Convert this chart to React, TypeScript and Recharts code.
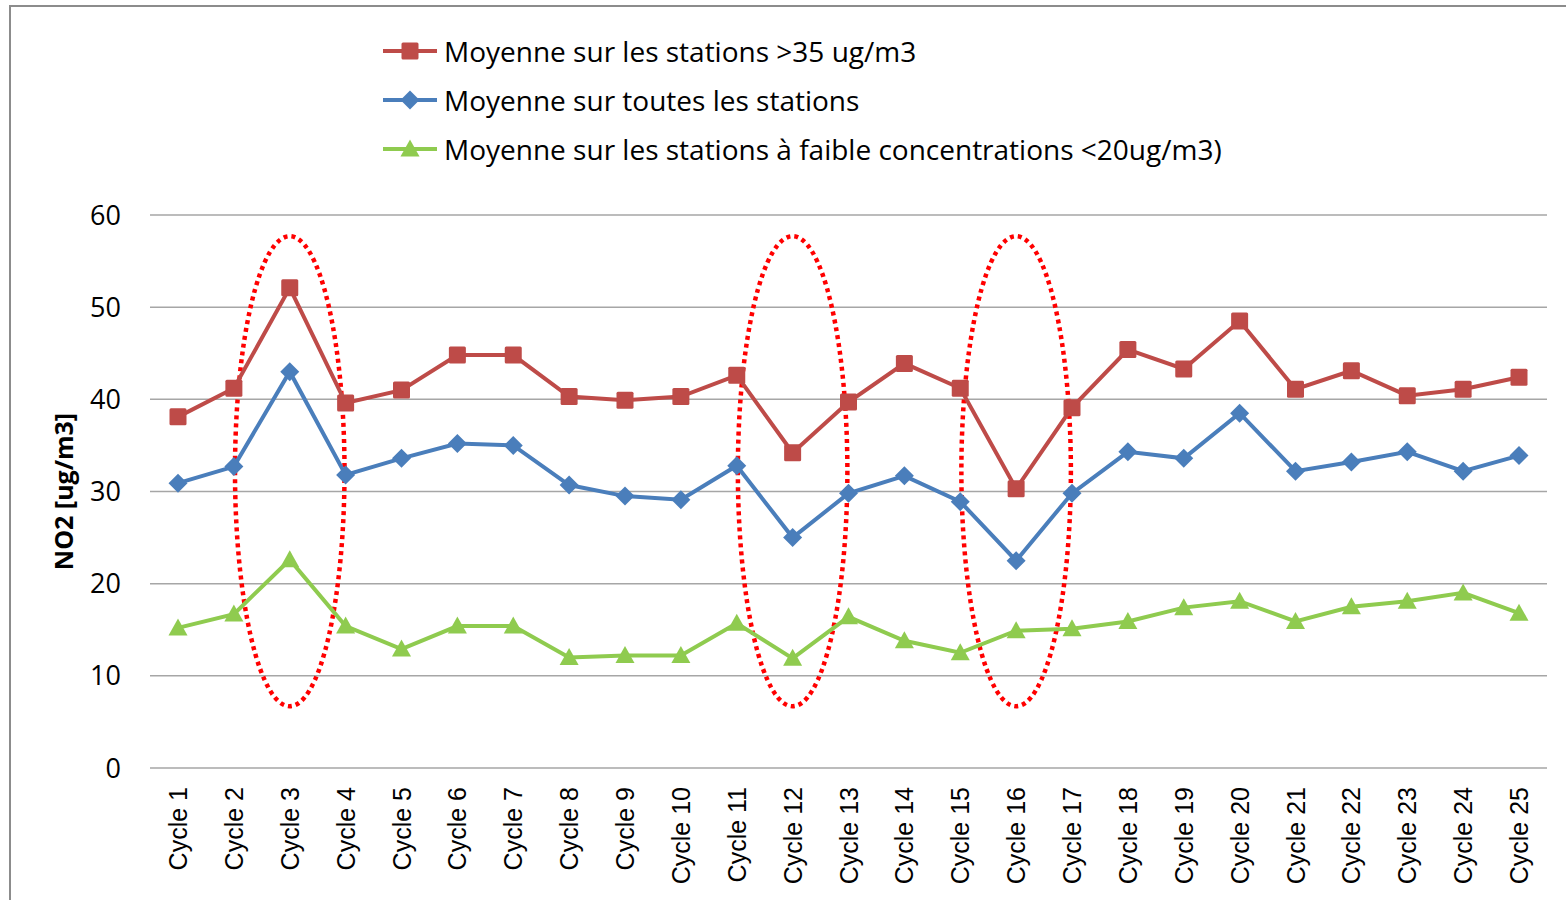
import { CartesianGrid, Legend, Line, LineChart, ReferenceArea, XAxis, YAxis } from "recharts";

const cycles = [
  "Cycle 1", "Cycle 2", "Cycle 3", "Cycle 4", "Cycle 5", "Cycle 6", "Cycle 7", "Cycle 8", "Cycle 9",
  "Cycle 10", "Cycle 11", "Cycle 12", "Cycle 13", "Cycle 14", "Cycle 15", "Cycle 16", "Cycle 17",
  "Cycle 18", "Cycle 19", "Cycle 20", "Cycle 21", "Cycle 22", "Cycle 23", "Cycle 24", "Cycle 25",
];

const highStations = [
  38.1, 41.2, 52.1, 39.6, 41.0, 44.8, 44.8, 40.3, 39.9, 40.3, 42.6, 34.2, 39.7,
  43.9, 41.2, 30.3, 39.1, 45.4, 43.3, 48.5, 41.1, 43.1, 40.4, 41.1, 42.4,
];
const allStations = [
  30.9, 32.7, 43.0, 31.8, 33.6, 35.2, 35.0, 30.7, 29.5, 29.1, 32.8, 25.0, 29.8,
  31.7, 28.9, 22.5, 29.8, 34.3, 33.6, 38.5, 32.2, 33.2, 34.3, 32.2, 33.9,
];
const lowStations = [
  15.2, 16.7, 22.6, 15.4, 12.9, 15.4, 15.4, 12.0, 12.2, 12.2, 15.7, 11.9, 16.4,
  13.8, 12.5, 14.9, 15.1, 15.9, 17.4, 18.1, 15.9, 17.5, 18.1, 19.0, 16.8,
];

const yTicks = [0, 10, 20, 30, 40, 50, 60];
// each ring spans from the cycle before to the cycle after the circled one
const circledRanges = [
  ["Cycle 2", "Cycle 4"],
  ["Cycle 11", "Cycle 13"],
  ["Cycle 15", "Cycle 17"],
];

const RED = "#BE4B48";
const BLUE = "#4A7EBB";
const GREEN = "#8FCB4F";
const GRID = "#A6A6A6";
const CALIBRI = "'Open Sans', sans-serif";

const seriesInfo = [
  { key: "high", name: "Moyenne sur les stations >35 ug/m3", color: RED, shape: "square" },
  { key: "all", name: "Moyenne sur toutes les stations", color: BLUE, shape: "diamond" },
  { key: "low", name: "Moyenne sur les stations à faible concentrations <20ug/m3)", color: GREEN, shape: "triangle" },
];

const data = cycles.map((cycle, i) => ({
  cycle,
  high: highStations[i],
  all: allStations[i],
  low: lowStations[i],
}));

function marker(shape: string, cx: number, cy: number, color: string, key?: string) {
  if (shape === "square") {
    return <rect key={key} x={cx - 8.5} y={cy - 8.5} width={17} height={17} rx={1.5} fill={color} />;
  }
  if (shape === "diamond") {
    return <polygon key={key} points={`${cx},${cy - 9.5} ${cx + 9.5},${cy} ${cx},${cy + 9.5} ${cx - 9.5},${cy}`} fill={color} />;
  }
  return <polygon key={key} points={`${cx},${cy - 9.5} ${cx + 9.5},${cy + 7.5} ${cx - 9.5},${cy + 7.5}`} fill={color} />;
}

function makeDot(shape: string, color: string) {
  return (props: any) => {
    const { cx, cy, index } = props;
    if (cx == null || cy == null) return <g key={`d-${index}`} />;
    return marker(shape, cx, cy, color, `${shape}-${index}`);
  };
}

function LegendBox() {
  return (
    <div style={{ fontFamily: CALIBRI, fontSize: 28, color: "#000" }}>
      {seriesInfo.map((s) => (
        <div key={s.key} style={{ display: "flex", alignItems: "center", height: 49 }}>
          <svg width={54} height={24} style={{ marginRight: 7 }}>
            <line x1={0} y1={12} x2={54} y2={12} stroke={s.color} strokeWidth={4} />
            {marker(s.shape, 27, 12, s.color)}
          </svg>
          <span style={{ whiteSpace: "nowrap" }}>{s.name}</span>
        </div>
      ))}
    </div>
  );
}

function CycleTick(props: any) {
  const { x, y, payload } = props;
  return (
    <g transform={`translate(${x},${y})`}>
      <text
        transform="rotate(-90)"
        x={0}
        y={0}
        dy={9}
        textAnchor="end"
        fontFamily="'Liberation Sans', Arial, sans-serif"
        fontSize={25}
        fill="#000"
      >
        {payload.value}
      </text>
    </g>
  );
}

function Ring(props: any) {
  const { x, y, width, height } = props;
  return (
    <ellipse
      cx={x + width / 2}
      cy={y + height / 2}
      rx={width * 0.49}
      ry={height / 2}
      fill="none"
      stroke="#FF0000"
      strokeWidth={4.5}
      strokeDasharray="4 4"
    />
  );
}

export default function App() {
  return (
    <div style={{ position: "absolute", left: 0, top: 0, width: 1566, height: 900, background: "#fff", overflow: "hidden" }}>
      <div
        style={{
          position: "absolute",
          left: 9,
          top: 5,
          width: 1600,
          height: 950,
          borderLeft: "2px solid #8C8C8C",
          borderTop: "2px solid #8C8C8C",
        }}
      />
      <LineChart width={1566} height={900} data={data} margin={{ top: 215, right: 19, bottom: 12, left: 10 }}>
        <CartesianGrid vertical={false} stroke={GRID} strokeWidth={1.5} />
        <XAxis
          dataKey="cycle"
          height={120}
          padding={{ left: 28, right: 28 }}
          axisLine={false}
          tickLine={false}
          tickSize={0}
          tickMargin={19}
          interval={0}
          tick={<CycleTick />}
        />
        <YAxis
          width={140}
          domain={[0, 60]}
          ticks={yTicks}
          axisLine={false}
          tickLine={false}
          tickSize={0}
          tickMargin={29}
          tick={{ fill: "#000", fontSize: 27, fontFamily: CALIBRI }}
          label={{
            value: "NO2 [ug/m3]",
            angle: -90,
            position: "center",
            dx: -16,
            style: { fontFamily: CALIBRI, fontSize: 25, fontWeight: 700, fill: "#000" },
          }}
        />
        <Legend
          layout="vertical"
          align="center"
          verticalAlign="middle"
          content={<LegendBox />}
          wrapperStyle={{ top: 26, left: 383, width: 900 }}
        />
        <Line
          type="linear"
          dataKey="high"
          name={seriesInfo[0].name}
          stroke={RED}
          strokeWidth={4}
          dot={makeDot("square", RED)}
          activeDot={false}
          isAnimationActive={false}
        />
        <Line
          type="linear"
          dataKey="all"
          name={seriesInfo[1].name}
          stroke={BLUE}
          strokeWidth={4}
          dot={makeDot("diamond", BLUE)}
          activeDot={false}
          isAnimationActive={false}
        />
        <Line
          type="linear"
          dataKey="low"
          name={seriesInfo[2].name}
          stroke={GREEN}
          strokeWidth={4}
          dot={makeDot("triangle", GREEN)}
          activeDot={false}
          isAnimationActive={false}
        />
        {circledRanges.map(([a, b]) => (
          <ReferenceArea key={a} x1={a} x2={b} y1={6.7} y2={57.7} shape={<Ring />} ifOverflow="visible" />
        ))}
      </LineChart>
    </div>
  );
}
